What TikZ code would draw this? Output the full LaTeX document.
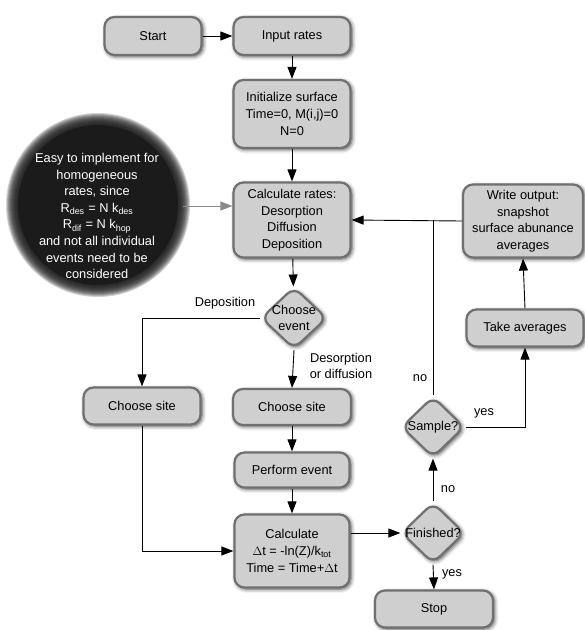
\documentclass[tikz,border=0pt]{standalone}
\usepackage{fontspec}
\setmainfont{Liberation Sans}
\usetikzlibrary{shapes.geometric,arrows.meta,shadows.blur,calc}
\definecolor{boxfill}{HTML}{CFCFCF}
\definecolor{boxline}{HTML}{707070}
\definecolor{notefill}{HTML}{1B1B1B}
\definecolor{notearrow}{HTML}{8A8A8A}
\begin{document}
\begin{tikzpicture}[x=1pt,y=-1pt,
  every node/.style={font=\fontsize{12.8}{16.6}\selectfont},
  soft/.style={blur shadow={shadow xshift=1.5pt,shadow yshift=-1.5pt,shadow blur radius=4pt,shadow opacity=75}},
  stepbox/.style={draw=boxline,line width=2.2pt,fill=boxfill,rounded corners=10pt,
    align=center,inner sep=0pt,soft},
  decision/.style={diamond,draw=boxline,line width=2.2pt,fill=boxfill,rounded corners=9pt,
    inner sep=0pt,soft},
  dtext/.style={align=center,inner sep=0pt},
  lbl/.style={align=center,inner sep=0pt},
  flow/.style={line width=0.9pt,-{Triangle[length=12pt,width=9pt]}},
  plain/.style={line width=0.9pt},
  notelink/.style={line width=0.9pt,draw=notearrow,-{Triangle[length=12pt,width=9pt,fill=notearrow]}}
]
\useasboundingbox (0,0) rectangle (585,630);

% explanatory note: a dark disc whose rim fades out softly
\node[circle,minimum size=170pt,inner sep=0pt] (note) at (98,205) {};
\fill[notefill] (note.center) circle[radius=80pt];
\foreach \r in {81,...,92}
  \fill[notefill,opacity=0.2] (note.center) circle[radius=\r pt];
\node[lbl,text=white] (notetext) at (97,216)
  {Easy to implement for\\homogeneous\\rates, since\\
   R\textsubscript{des} = N k\textsubscript{des}\\
   R\textsubscript{dif} = N k\textsubscript{hop}\\
   and not all individual\\events need to be\\considered};

% process steps
\node[stepbox,minimum width=97pt,minimum height=38pt] (start) at (153,36) {Start};
\node[stepbox,minimum width=117pt,minimum height=38pt] (input) at (292,36) {Input rates};
\node[stepbox,minimum width=117pt,minimum height=68pt] (init) at (292,114)
  {Initialize surface\\Time=0, M(i,j)=0\\N=0};
\node[stepbox,minimum width=117pt,minimum height=75pt] (rates) at (292,220)
  {Calculate rates:\\Desorption\\Diffusion\\Deposition};
\node[stepbox,minimum width=120pt,minimum height=73pt] (out) at (523,221)
  {Write output:\\snapshot\\surface abunance\\averages};
\node[stepbox,minimum width=117pt,minimum height=37pt] (avg) at (525,328) {Take averages};
\node[stepbox,minimum width=117pt,minimum height=37pt] (siteL) at (142,406) {Choose site};
\node[stepbox,minimum width=118pt,minimum height=36pt] (siteM) at (292,407) {Choose site};
\node[stepbox,minimum width=115pt,minimum height=35pt] (perf) at (292,470) {Perform event};
\node[stepbox,minimum width=115pt,minimum height=73pt] (dt) at (292,551)
  {Calculate\\$\Delta$t = -ln(Z)/k\textsubscript{tot}\\Time = Time+$\Delta$t};
\node[stepbox,minimum width=118pt,minimum height=37pt] (stop) at (434,609) {Stop};

% decisions
\node[decision,minimum width=66pt,minimum height=62pt] (ev) at (294,318) {};
\node[dtext] (evt) at (ev) {Choose\\event};
\node[decision,minimum width=63pt,minimum height=61pt] (smp) at (433,427) {};
\node[dtext] (smpt) at (smp) {Sample?};
\node[decision,minimum width=63pt,minimum height=61pt] (fin) at (433,533) {};
\node[dtext] (fint) at (fin) {Finished?};

% connectors
\draw[flow] (start) -- (input);
\draw[flow] (input) -- (init);
\draw[flow] (init) -- (rates);
\draw[notelink] (note.east |- 0,206) -- (rates.west |- 0,206);
\draw[flow] (rates) -- (ev);
\draw[flow] (ev.west) -| (siteL.north);
\draw[flow] (ev.south) -- (siteM.north);
\draw[flow] (siteM) -- (perf);
\draw[flow] (perf) -- (dt);
\draw[flow] (siteL.south) |- (dt.west);
\draw[flow] (fin.west -| dt.east) -- (fin.west);
\draw[flow] (fin.south) -- (stop.north);
\draw[flow] (fin.north) -- (smp.south);
\draw[flow] (out.west) -- (rates.east);
\draw[plain] (smp.north) -- (smp.north |- rates.east);
\draw[flow] (smp.east) -| (avg.south);
\draw[flow] (avg.north) -- (out.south);

% branch labels
\node[lbl] (ldep) at (225,303) {Deposition};
\node[lbl] (ldes) at (341,366) {Desorption\\or diffusion};
\node[lbl] (lno1) at (420,378) {no};
\node[lbl] (lyes1) at (484,413) {yes};
\node[lbl] (lno2) at (448,489) {no};
\node[lbl] (lyes2) at (452,574) {yes};
\end{tikzpicture}
\end{document}
